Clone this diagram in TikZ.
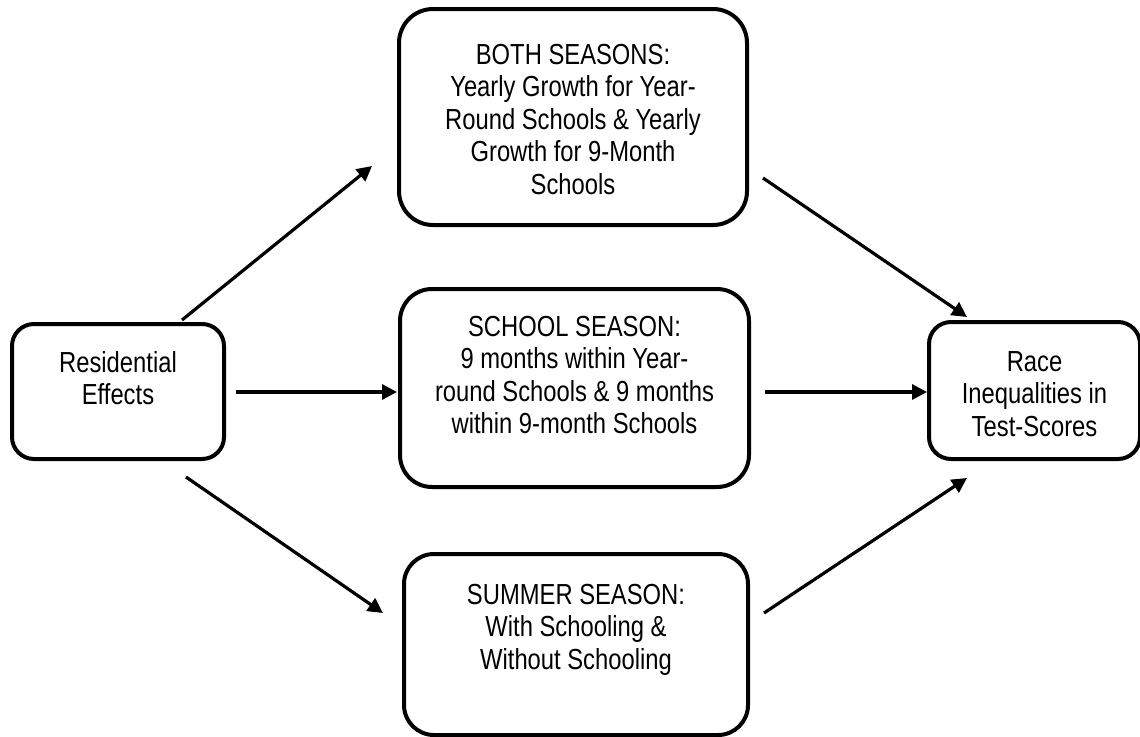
\documentclass[tikz,border=0pt]{standalone}
\usepackage{fontspec}
\setmainfont{Liberation Sans}[FakeStretch=0.82]
\usetikzlibrary{arrows.meta}
\begin{document}
\begin{tikzpicture}[x=1pt,y=-1pt,
  box/.style={draw=black, line width=4pt, fill=none, anchor=north west, inner sep=0pt},
  txt/.style={align=center, anchor=north, inner sep=0pt, font=\fontsize{29}{32.5}\selectfont},
  conn/.style={line width=3.2pt, -{Triangle[length=15pt,width=15pt]}}]
\useasboundingbox (0,0) rectangle (1140,736);
% boxes
\node[box, minimum width=212pt, minimum height=135pt, rounded corners=22pt] (res) at (10,322) {};
\node[box, minimum width=348pt, minimum height=216pt, rounded corners=34pt] (both) at (397,7) {};
\node[box, minimum width=349pt, minimum height=198pt, rounded corners=32pt] (school) at (398,287) {};
\node[box, minimum width=344pt, minimum height=181pt, rounded corners=30pt] (summer) at (402,552) {};
\node[box, minimum width=211pt, minimum height=137pt, rounded corners=22pt] (race) at (927,320) {};
% texts
\node[txt] (resT) at ([yshift=-29pt]res.north) {Residential\\Effects};
\node[txt] (bothT) at ([yshift=-37pt]both.north) {BOTH SEASONS:\\Yearly Growth for Year-\\Round Schools \& Yearly\\Growth for 9-Month\\Schools};
\node[txt] (schoolT) at ([yshift=-29pt]school.north) {SCHOOL SEASON:\\9 months within Year-\\round Schools \& 9 months\\within 9-month Schools};
\node[txt] (summerT) at ([yshift=-32pt]summer.north) {SUMMER SEASON:\\With Schooling \&\\Without Schooling};
\node[txt] (raceT) at ([yshift=-31pt]race.north) {Race\\Inequalities in\\Test-Scores};
% connector ends
\coordinate (r2bS) at (182,320);
\coordinate (r2bE) at (372,166);
\coordinate (r2sS) at (236,392);
\coordinate (r2sE) at (397,392);
\coordinate (r2mS) at (186,477);
\coordinate (r2mE) at (383,613);
\coordinate (b2rS) at (763,178);
\coordinate (b2rE) at (967,317);
\coordinate (s2rS) at (765,392);
\coordinate (s2rE) at (927,392);
\coordinate (m2rS) at (764,613);
\coordinate (m2rE) at (967,478);
% connectors
\draw[conn] (r2bS) -- (r2bE);
\draw[conn] (r2sS) -- (r2sE);
\draw[conn] (r2mS) -- (r2mE);
\draw[conn] (b2rS) -- (b2rE);
\draw[conn] (s2rS) -- (s2rE);
\draw[conn] (m2rS) -- (m2rE);
\end{tikzpicture}
\end{document}
